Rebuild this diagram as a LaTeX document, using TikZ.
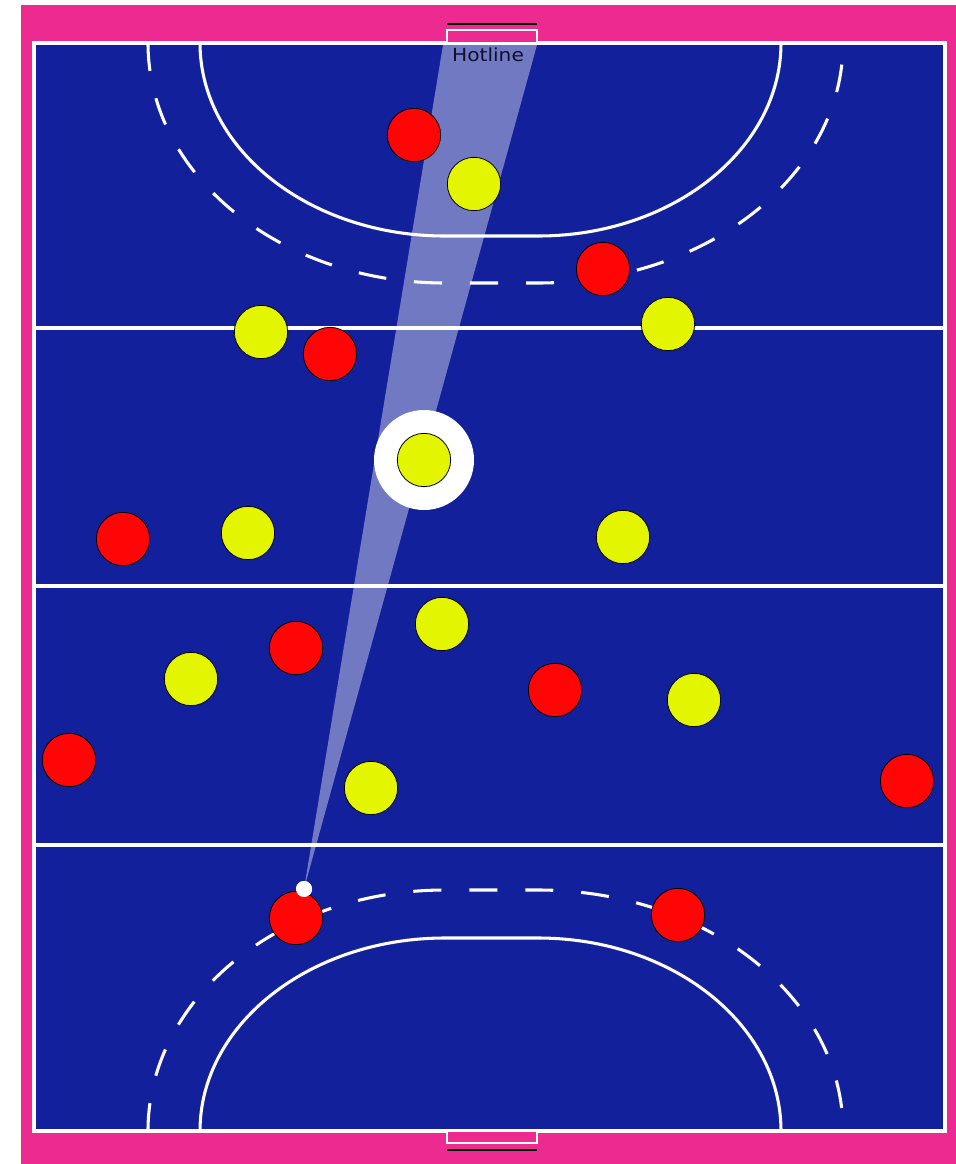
\documentclass[tikz,border=0pt]{standalone}
\usepackage{fontspec}
\setsansfont{DejaVu Sans}
\usetikzlibrary{calc}
\definecolor{lapangan}{RGB}{19,32,155}
\definecolor{pinggir}{RGB}{237,42,144}
\definecolor{merahpemain}{RGB}{255,5,5}
\definecolor{kuningpemain}{RGB}{228,245,0}
\definecolor{tulisan}{RGB}{15,15,45}

\begin{document}
\begin{tikzpicture}[x=0.75pt,y=-0.75pt,
    garis/.style={white,line width=2.3pt},
    putus/.style={white,line width=2.3pt,dash pattern=on 21pt off 21pt},
    merah/.style={circle,draw=black,line width=0.6pt,fill=merahpemain,minimum size=40pt,inner sep=0pt},
    kuning/.style={circle,draw=black,line width=0.6pt,fill=kuningpemain,minimum size=40pt,inner sep=0pt}]

    % Gambar latar dan batas lapangan
    \useasboundingbox (0,0) rectangle (956,1164);
    \fill[white] (0,0) rectangle (956,1164);
    \fill[pinggir] (21,5) rectangle (956,1164);
    \draw[garis,fill=lapangan,line width=2.6pt] (34,43) rectangle (945,1131);

    % Gambar garis melintang
    \draw[garis] (34,328)--(945,328);
    \draw[garis] (34,586)--(945,586);
    \draw[garis] (34,845)--(945,845);

    % Gambar lingkaran D atas (garis penuh dan putus-putus)
    \draw[garis] (200,43) arc[start angle=180,end angle=90,x radius=245,y radius=193]
        --(538,236) arc[start angle=90,end angle=0,x radius=243,y radius=193];
    \draw[putus] (148,43) arc[start angle=180,end angle=90,x radius=297,y radius=240]
        --(538,283) arc[start angle=90,end angle=0,x radius=305,y radius=240];

    % Gambar lingkaran D bawah
    \draw[garis] (200,1131) arc[start angle=180,end angle=270,x radius=245,y radius=193]
        --(538,938) arc[start angle=270,end angle=360,x radius=243,y radius=193];
    \draw[putus] (148,1131) arc[start angle=180,end angle=270,x radius=297,y radius=241]
        --(538,890) arc[start angle=270,end angle=360,x radius=305,y radius=241];

    % Gambar gawang atas dan bawah
    \draw[white,line width=1.2pt,fill=pinggir] (447,30) rectangle (537,43);
    \draw[black,line width=2.2pt] (447,24)--(537,24);
    \draw[white,line width=1.2pt,fill=pinggir] (447,1131) rectangle (537,1143);
    \draw[black,line width=2.2pt] (447,1150)--(537,1150);

    % Gambar bola dan sorotan ke gawang
    \node[circle,fill=white,minimum size=12pt,inner sep=0pt] (bola) at (304,889) {};
    \coordinate (tiangkiri) at (443,45);
    \coordinate (tiangkanan) at (537,45);
    \fill[white,opacity=.4] (bola.center)--(tiangkiri)--(tiangkanan)--cycle;
    \node[tulisan,font=\sffamily\fontsize{13.5}{15}\selectfont,xscale=1.12] (hotline) at (488,55) {Hotline};

    % Gambar pemain merah
    \node[merah] (m1) at (414,135) {};
    \node[merah] (m2) at (603,269) {};
    \node[merah] (m3) at (330,354) {};
    \node[merah] (m4) at (123,539) {};
    \node[merah] (m5) at (296,648) {};
    \node[merah] (m6) at (555,690) {};
    \node[merah] (m7) at (69,760) {};
    \node[merah] (m8) at (907,781) {};
    \node[merah] (m9) at (296,918) {};
    \node[merah] (m10) at (678,915) {};

    % Gambar pemain kuning, yang memegang bola diberi lingkaran putih
    \node[circle,fill=white,minimum size=75pt,inner sep=0pt] (sorot) at (424,460) {};
    \node[kuning] (k1) at (474,184) {};
    \node[kuning] (k2) at (261,332) {};
    \node[kuning] (k3) at (668,324) {};
    \node[kuning] (k4) at (sorot) {};
    \node[kuning] (k5) at (248,533) {};
    \node[kuning] (k6) at (623,537) {};
    \node[kuning] (k7) at (442,624) {};
    \node[kuning] (k8) at (191,679) {};
    \node[kuning] (k9) at (694,700) {};
    \node[kuning] (k10) at (371,788) {};

    % Bola digambar ulang di atas pemain
    \node[circle,fill=white,minimum size=12pt,inner sep=0pt] at (bola) {};

\end{tikzpicture}
\end{document}
